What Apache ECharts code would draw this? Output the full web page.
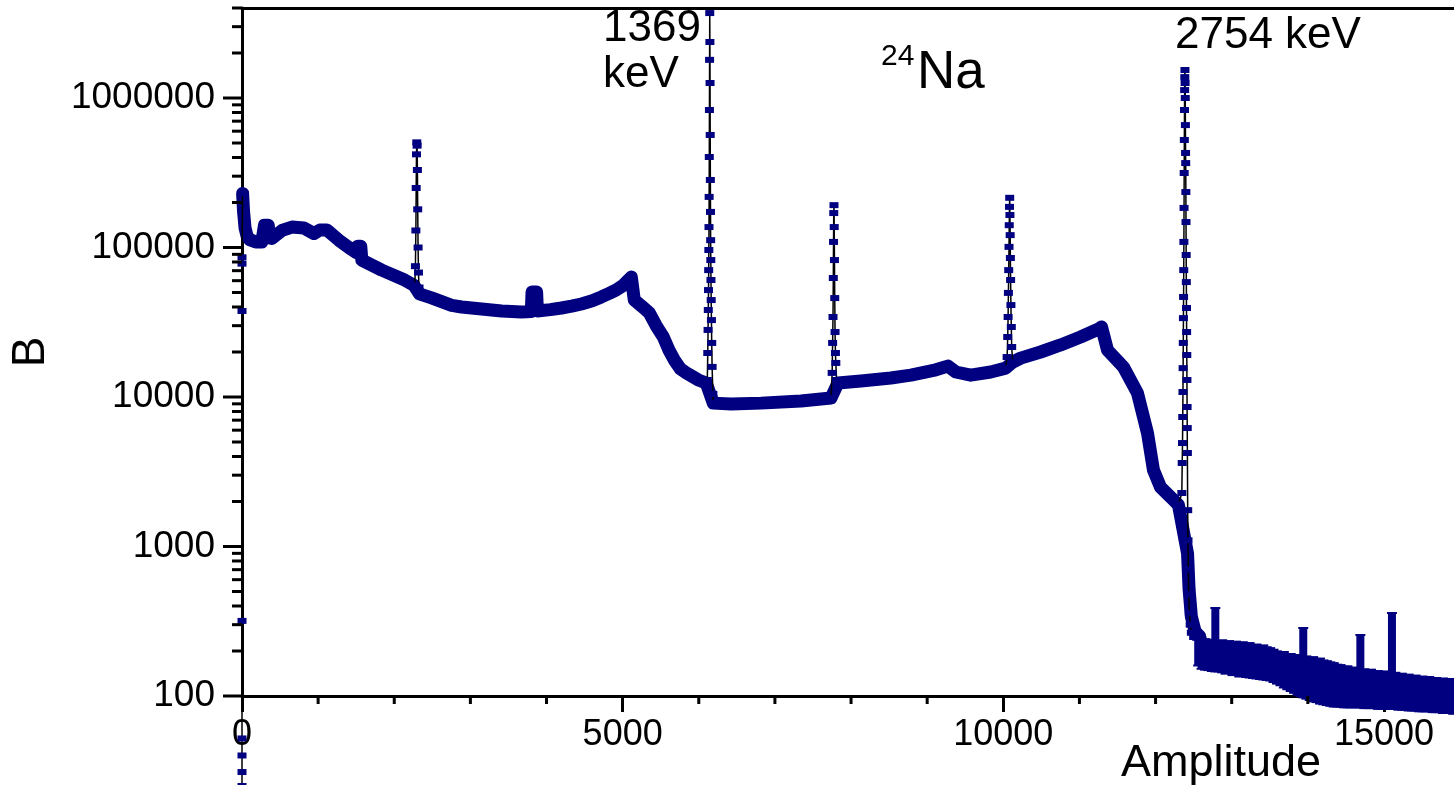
<!DOCTYPE html>
<html>
<head>
<meta charset="utf-8">
<title>24Na spectrum</title>
<script src="https://cdn.jsdelivr.net/npm/echarts@6/dist/echarts.min.js"></script>
<style>
  html, body { margin: 0; padding: 0; background: #fff; }
  #chart { width: 1454px; height: 785px; }
</style>
</head>
<body>
<div id="chart"></div>
<script>
// Amplitude range and counts range of the spectrum plot
const X_MAX = 15920;
const Y_MIN = 100;
const Y_MAX = 4000000;

// Tick positions
const xMajorTicks = [0, 5000, 10000, 15000];
const xMinorTicks = [1000, 2000, 3000, 4000, 6000, 7000, 8000, 9000, 11000, 12000, 13000, 14000];
const yMajorTicks = [100, 1000, 10000, 100000, 1000000];
const yMinorTicks = [
  200, 300, 400, 500, 600, 700, 800, 900,
  2000, 3000, 4000, 5000, 6000, 7000, 8000, 9000,
  20000, 30000, 40000, 50000, 60000, 70000, 80000, 90000,
  200000, 300000, 400000, 500000, 600000, 700000, 800000, 900000,
  2000000, 3000000, 4000000
];

// Smooth continuum of the spectrum [amplitude, counts]
const continuum = [
  [8, 230000], [20, 175000], [40, 135000], [65, 120000], [100, 113000],
  [180, 109000], [260, 109000], [285, 112000], [295, 141000], [345, 141000],
  [360, 116000], [393, 115000], [525, 130000], [656, 137000], [813, 135000],
  [944, 124000], [1023, 131000], [1115, 131000], [1272, 112000], [1403, 100000],
  [1508, 92000], [1520, 102000], [1560, 102000], [1574, 82400], [1836, 70600],
  [2137, 60600], [2255, 56000], [2282, 53500], [2330, 49000], [2490, 46000],
  [2754, 41000], [2885, 40000], [3147, 38800], [3410, 37600], [3672, 37000],
  [3800, 37300], [3810, 50400], [3870, 50400], [3880, 37600], [4050, 38400],
  [4196, 39400], [4330, 40500], [4458, 41900], [4600, 44000], [4721, 46700],
  [4830, 49500], [4917, 52000], [5000, 55500], [5049, 58800], [5090, 61500],
  [5114, 63500], [5135, 63000], [5153, 44500], [5250, 40500], [5350, 36500],
  [5440, 30000], [5534, 25200], [5610, 20500], [5678, 17700], [5760, 15400],
  [5835, 14500], [5993, 13000], [6098, 12400], [6190, 9100], [6425, 8980],
  [6819, 9100], [7343, 9400], [7737, 9840], [7828, 12400], [8130, 12800],
  [8523, 13400], [8786, 14000], [9114, 15200], [9271, 16100], [9376, 14700],
  [9572, 14000], [9835, 14700], [10031, 15600], [10123, 17100], [10228, 18200],
  [10490, 20000], [10753, 22300], [11015, 25200], [11251, 28500], [11290, 29400],
  [11369, 20600], [11579, 15850], [11762, 10640], [11894, 5740], [11972, 3250],
  [12064, 2500], [12235, 2050], [12300, 1900], [12420, 900], [12440, 520],
  [12470, 340], [12520, 270], [12580, 250]
];

// Channels around zero amplitude
const peakNearZero = [
  [0, 25], [0, 31], [0, 40], [0, 52], [0, 318], [0, 37600], [0, 78000], [0, 86000], [8, 230000]
];

// Narrow photo/escape peaks [amplitude, counts]
const peak2295 = [
  [2270, 56000], [2278, 75000], [2284, 130000], [2288, 250000], [2292, 420000],
  [2296, 505000], [2300, 480000], [2304, 330000], [2308, 180000], [2313, 100000],
  [2318, 68000], [2325, 54000], [2335, 50000]
];
const peak1369keV = [
  [6098, 12400], [6112, 13000], [6118, 19700], [6122, 28100], [6125, 38200], [6128, 51900],
  [6130, 70600], [6132, 96200], [6134, 137000], [6136, 218000], [6138, 403000],
  [6140, 831000], [6142, 1800000], [6144, 3700000], [6146, 2370000], [6148, 1260000],
  [6150, 566000], [6152, 283000], [6154, 173000], [6156, 112000], [6158, 82400],
  [6160, 60600], [6163, 44500], [6166, 32700], [6170, 23000], [6175, 15900],
  [6185, 10500], [6190, 9100]
];
const peak7776 = [
  [7737, 9840], [7752, 14500], [7758, 23000], [7763, 34300], [7767, 62500],
  [7770, 109000], [7773, 170000], [7776, 192000], [7779, 137000], [7782, 82400],
  [7786, 45900], [7790, 27200], [7795, 19700], [7800, 16900], [7810, 13000], [7828, 12400]
];
const peak10084 = [
  [10031, 15600], [10050, 18500], [10058, 25200], [10063, 34300], [10067, 49700],
  [10071, 70600], [10075, 101000], [10078, 141000], [10081, 187000], [10084, 215000],
  [10087, 165000], [10090, 121000], [10093, 85100], [10096, 60600], [10100, 41200],
  [10105, 29400], [10110, 21600], [10123, 17100]
];
const peak2754keV = [
  [12300, 1900], [12345, 2280], [12350, 3620], [12354, 4920], [12357, 7350],
  [12360, 10800], [12362, 15600], [12364, 23000], [12366, 33700], [12368, 46700],
  [12370, 70600], [12372, 109000], [12374, 184000], [12376, 315000], [12378, 524000],
  [12380, 831000], [12382, 1130000], [12384, 1380000], [12386, 1540000], [12388, 1260000],
  [12390, 1000000], [12392, 659000], [12394, 429000], [12396, 367000], [12398, 235000],
  [12400, 148000], [12402, 89100], [12404, 58700], [12406, 39400], [12408, 27200],
  [12410, 19100], [12412, 13000], [12414, 8570], [12416, 6200], [12418, 4220],
  [12422, 1750], [12426, 1100], [12430, 700], [12436, 480], [12444, 360],
  [12455, 300], [12470, 265], [12500, 248], [12540, 245]
];

// Noisy high-amplitude tail: [channel, lower edge, upper edge] of the error band
const tail = [
  [12560, 160, 252], [12605, 152, 246], [12650, 150, 240], [12695, 149, 236], [12740, 147, 238],
  [12785, 146, 388], [12830, 146, 232], [12875, 144, 236], [12920, 141, 230], [12965, 143, 233],
  [13010, 138, 229], [13055, 139, 231], [13100, 135, 226], [13145, 136, 229], [13190, 134, 224],
  [13235, 133, 226], [13280, 132, 219], [13325, 131, 221], [13370, 130, 215], [13415, 129, 218],
  [13460, 128, 212], [13505, 127, 209], [13550, 124, 204], [13595, 121, 199], [13640, 118, 195],
  [13685, 114, 197], [13730, 111, 189], [13775, 108, 191], [13820, 105, 186], [13865, 102, 188],
  [13900, 100, 183], [13940, 98, 285], [13980, 96, 184], [14025, 94, 180], [14070, 92, 182],
  [14115, 91, 177], [14160, 89, 178], [14205, 88, 173], [14250, 87, 171], [14295, 86, 168],
  [14340, 85, 166], [14385, 85, 162], [14430, 85, 161], [14475, 84, 157], [14520, 84, 158],
  [14565, 84, 154], [14610, 84, 155], [14650, 84, 152], [14690, 84, 256], [14740, 83, 151],
  [14785, 83, 149], [14830, 83, 150], [14875, 83, 146], [14920, 82, 147], [14965, 82, 144],
  [15010, 82, 146], [15060, 82, 142], [15105, 82, 359], [15150, 82, 143], [15190, 81, 140],
  [15235, 81, 141], [15280, 81, 138], [15325, 80, 139], [15370, 80, 136], [15415, 80, 137],
  [15460, 79, 134], [15505, 79, 135], [15550, 79, 133], [15595, 79, 134], [15640, 78, 131],
  [15685, 78, 132], [15730, 78, 130], [15775, 77, 131], [15820, 77, 129], [15865, 77, 130],
  [15910, 76, 128]
];

const NAVY = '#000080';
const FONT = '"Liberation Sans", Arial, Helvetica, sans-serif';

function peakSeries(name, data) {
  return {
    name: name,
    type: 'line',
    data: data,
    clip: false,
    showSymbol: true,
    showAllSymbol: true,
    symbol: 'rect',
    symbolSize: [9, 6],
    itemStyle: { color: NAVY },
    lineStyle: { color: '#000', width: 1.5 },
    z: 3,
    animation: false
  };
}

function tickSeries(name, values, axis, len) {
  return {
    name: name,
    type: 'custom',
    coordinateSystem: 'cartesian2d',
    clip: false,
    silent: true,
    z: 5,
    data: values.map(v => axis === 'y' ? [0, v] : [v, Y_MIN]),
    renderItem: function (params, api) {
      const p = api.coord([api.value(0), api.value(1)]);
      const shape = axis === 'y'
        ? { x1: p[0] - len, y1: p[1], x2: p[0], y2: p[1] }
        : { x1: p[0], y1: p[1], x2: p[0], y2: p[1] + len };
      return { type: 'line', shape: shape, style: { stroke: '#000', lineWidth: 3 } };
    }
  };
}

const chart = echarts.init(document.getElementById('chart'), null, { renderer: 'canvas' });

const option = {
  animation: false,
  backgroundColor: '#fff',
  grid: { left: 240, right: 0, top: 8, bottom: 89, containLabel: false },
  xAxis: [
    {
      type: 'value', min: 0, max: X_MAX, interval: 5000, position: 'bottom',
      axisLine: { show: true, onZero: false, lineStyle: { color: '#000', width: 3 } },
      axisTick: { show: true, length: 16, lineStyle: { color: '#000', width: 3 } },
      axisLabel: {
        show: true, margin: 21, color: '#000', fontSize: 36, fontFamily: FONT,
        showMaxLabel: false,
        formatter: v => (xMajorTicks.indexOf(v) >= 0 ? String(v) : '')
      },
      splitLine: { show: false }
    },
    {
      type: 'value', min: 0, max: X_MAX, position: 'top',
      axisLine: { show: true, onZero: false, lineStyle: { color: '#000', width: 3 } },
      axisTick: { show: false }, axisLabel: { show: false }, splitLine: { show: false }
    }
  ],
  yAxis: [
    {
      type: 'log', logBase: 10, min: Y_MIN, max: Y_MAX,
      axisLine: { show: true, onZero: false, lineStyle: { color: '#000', width: 3 } },
      axisTick: { show: false },
      axisLabel: {
        show: true, margin: 27, color: '#000', fontSize: 37, fontFamily: FONT,
        showMaxLabel: false,
        formatter: v => {
          const r = Math.round(v);
          return yMajorTicks.indexOf(r) >= 0 ? String(r) : '';
        }
      },
      splitLine: { show: false },
      name: 'B', nameLocation: 'middle', nameGap: 188, nameRotate: 90,
      nameTextStyle: { color: '#000', fontSize: 46, fontFamily: FONT }
    }
  ],
  graphic: [
    { type: 'text', left: 603, top: 7, style: { text: '1369', fill: '#000', font: '44px ' + FONT } },
    { type: 'text', left: 603, top: 53, style: { text: 'keV', fill: '#000', font: '44px ' + FONT } },
    { type: 'text', left: 1175, top: 14, style: { text: '2754 keV', fill: '#000', font: '44px ' + FONT } },
    { type: 'text', left: 881, top: 42, style: { text: '24', fill: '#000', font: '30px ' + FONT } },
    { type: 'text', left: 917, top: 47, style: { text: 'Na', fill: '#000', font: '53px ' + FONT } },
    { type: 'text', left: 1121, top: 741, style: { text: 'Amplitude', fill: '#000', font: '45px ' + FONT } }
  ],
  series: [
    tickSeries('xMinor', xMinorTicks, 'x', 8),
    tickSeries('yMajor', yMajorTicks, 'y', 19),
    tickSeries('yMinor', yMinorTicks, 'y', 10),
    {
      name: 'continuum',
      type: 'line',
      data: continuum,
      showSymbol: false,
      clip: true,
      lineStyle: { color: NAVY, width: 13, join: 'round', cap: 'round' },
      z: 2
    },
    peakSeries('near zero', peakNearZero),
    peakSeries('2295', peak2295),
    peakSeries('1369 keV', peak1369keV),
    peakSeries('7776', peak7776),
    peakSeries('10084', peak10084),
    peakSeries('2754 keV', peak2754keV),
    {
      name: 'tail',
      type: 'custom',
      coordinateSystem: 'cartesian2d',
      clip: false,
      z: 4,
      data: tail,
      encode: { x: 0, y: [1, 2] },
      renderItem: function (params, api) {
        const lo = api.coord([api.value(0), api.value(1)]);
        const hi = api.coord([api.value(0), api.value(2)]);
        const w = 8;
        return {
          type: 'group',
          children: [
            { type: 'rect', shape: { x: lo[0] - w / 2, y: hi[1], width: w, height: lo[1] - hi[1] }, style: { fill: NAVY } },
            { type: 'line', shape: { x1: lo[0] - 5, y1: hi[1], x2: lo[0] + 5, y2: hi[1] }, style: { stroke: NAVY, lineWidth: 2 } },
            { type: 'line', shape: { x1: lo[0] - 5, y1: lo[1], x2: lo[0] + 5, y2: lo[1] }, style: { stroke: NAVY, lineWidth: 2 } }
          ]
        };
      }
    }
  ]
};

chart.setOption(option);
</script>
</body>
</html>
